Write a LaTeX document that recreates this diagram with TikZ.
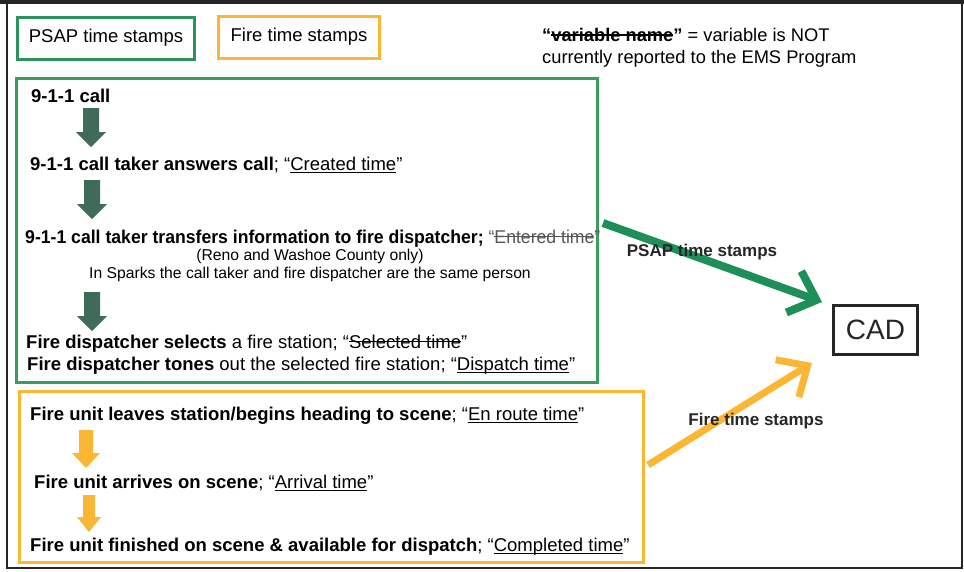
\documentclass[tikz,border=0pt]{standalone}
\usepackage{fontspec}
\usepackage{graphicx}
\setmainfont{Liberation Sans}
\usetikzlibrary{arrows.meta}
\newsavebox{\mylinebox}
\newcommand{\strk}[1]{\sbox{\mylinebox}{#1}\rlap{\rule[0.3em]{\wd\mylinebox}{1.1pt}}\usebox{\mylinebox}}
\newcommand{\ulin}[1]{\sbox{\mylinebox}{#1}\rlap{\rule[-0.17em]{\wd\mylinebox}{0.9pt}}\usebox{\mylinebox}}
% block arrow: name, centre x, top y, head start y, tip y, half shaft, half head, colour
\newcommand{\blockarrow}[8]{%
  \coordinate (#1) at (#2,#3);
  \fill[#8] (#2-#6,#3) -- (#2+#6,#3) -- (#2+#6,#4) -- (#2+#7,#4) -- (#2,#5) -- (#2-#7,#4) -- (#2-#6,#4) -- cycle;}
\definecolor{psapgreen}{HTML}{2A955A}
\definecolor{boxgreen}{HTML}{3A9D5D}
\definecolor{darkarrow}{HTML}{3F6B58}
\definecolor{fireorange}{HTML}{FBB634}
\definecolor{linegreen}{HTML}{1F8F58}
\definecolor{strikegray}{HTML}{555555}
\tikzset{
  txt/.style={anchor=base west, inner sep=0pt, font=\fontsize{18.5}{20}\selectfont},
  smalltxt/.style={anchor=base, inner sep=0pt, font=\fontsize{15.7}{17}\selectfont},
  notetxt/.style={anchor=base west, inner sep=0pt, font=\fontsize{18.3}{19}\selectfont},
  legend/.style={draw=#1, line width=3pt, minimum width=177pt, minimum height=42pt, inner sep=0pt, font=\fontsize{18.5}{20}\selectfont},
  bigbox/.style={draw=#1, line width=3pt},
  flow/.style={line width=#1, -{Straight Barb[length=24pt, width=44pt]}},
  flowlabel/.style={inner sep=0pt, font=\bfseries\fontsize{17}{19}\selectfont, text=black!85},
}
\begin{document}
\begin{tikzpicture}[x=1pt, y=-1pt]
\useasboundingbox (0,0) rectangle (964,571);
% outer frame
\draw[line width=1.5pt, black!85] (7,3) rectangle (962,568);
\draw[line width=4pt, black!85] (0,2) -- (964,2);

% legend
\node[legend=psapgreen] (lp) at (106,38) {PSAP time stamps};
\node[legend=fireorange, minimum width=161pt] (lf) at (299,37) {Fire time stamps};
\node[notetxt] (n1) at (542,41) {\textbf{“\strk{variable name}”} = variable is NOT};
\node[notetxt] (n2) at (542,63) {currently reported to the EMS Program};

% PSAP box
\draw[bigbox=boxgreen] (16,78) rectangle (597,382);
\node[txt] (t1) at (31,102) {\textbf{9-1-1 call}};
\blockarrow{a1}{91}{108}{132}{147}{8}{15}{darkarrow}
\node[txt] (t2) at (30,170) {\textbf{9-1-1 call taker answers call}; “\ulin{Created time}”};
\blockarrow{a2}{92}{180}{204}{219}{8}{15}{darkarrow}
\node[txt] (t3) at (25,243) {\scalebox{0.953}[1]{\textbf{9-1-1 call taker transfers information to fire dispatcher;} \textcolor{strikegray}{“\strk{Entered time}”}}};
\node[smalltxt] (t4) at (310,260) {(Reno and Washoe County only)};
\node[smalltxt] (t5) at (310,278) {In Sparks the call taker and fire dispatcher are the same person};
\blockarrow{a3}{92}{292}{316}{331}{8}{15}{darkarrow}
\node[txt] (t6) at (26,348) {\textbf{Fire dispatcher selects} a fire station; “\strk{Selected time}”};
\node[txt] (t7) at (27,370) {\textbf{Fire dispatcher tones} out the selected fire station; “\ulin{Dispatch time}”};

% Fire box
\draw[bigbox=fireorange] (19,391) rectangle (643,562);
\node[txt] (f1) at (30,420) {\textbf{Fire unit leaves station/begins heading to scene}; “\ulin{En route time}”};
\blockarrow{b1}{86}{430}{453}{468}{7}{14}{fireorange}
\node[txt] (f2) at (34,488) {\textbf{Fire unit arrives on scene}; “\ulin{Arrival time}”};
\blockarrow{b2}{89}{495}{517}{532}{6}{12}{fireorange}
\node[txt] (f3) at (30,551) {\textbf{Fire unit finished on scene \& available for dispatch}; “\ulin{Completed time}”};

% CAD
\node[draw=black!85, line width=3pt, minimum width=84pt, minimum height=49pt, inner sep=0pt,
      font=\fontsize{28}{30}\selectfont, text=black!85] (cad) at (875.5,330) {CAD};

% flows to CAD
\coordinate (ps) at (603,223);
\coordinate (pe) at (822,302);
\coordinate (fs) at (648,465);
\coordinate (fe) at (812,363);
\draw[flow=8pt, linegreen] (ps) -- (pe);
\draw[flow=7pt, fireorange] (fs) -- (fe);
\node[flowlabel] (lpsap) at (702,252) {PSAP time stamps};
\node[flowlabel] (lfire) at (756,421) {Fire time stamps};
\end{tikzpicture}
\end{document}
